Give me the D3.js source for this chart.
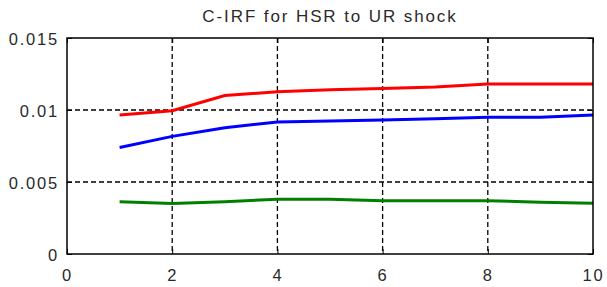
<!DOCTYPE html>
<html><head><meta charset="utf-8">
<script src="https://cdn.jsdelivr.net/npm/d3@7"></script>
<style>body{margin:0;background:#fff}svg{display:block}</style>
</head><body><svg id="c" width="607" height="287"></svg>
<script>
const title = "C-IRF for HSR to UR shock";
const horizons = [1,2,3,4,5,6,7,8,9,10];
const upper = [0.00965,0.00995,0.0110,0.01127,0.0114,0.0115,0.0116,0.0118,0.0118,0.0118];
const middle = [0.0074,0.00817,0.00877,0.00917,0.00924,0.0093,0.0094,0.0095,0.0095,0.00965];
const lower = [0.00363,0.0035,0.00363,0.0038,0.0038,0.0037,0.0037,0.0037,0.0036,0.00352];
const xTicks = [0,2,4,6,8,10];
const yTicks = [0,0.005,0.01,0.015];
const yTickLabels = ["0","0.005","0.01","0.015"];

const svg = d3.select("#c");
const L=67, R=593, T=38, B=254;
const x = d3.scaleLinear().domain([0,10]).range([L,R]);
const y = d3.scaleLinear().domain([0,0.015]).range([B,T]);
const font = "Arial, 'Liberation Sans', sans-serif";

// grid
const g = svg.append("g");
g.selectAll(".vg").data(xTicks.slice(1,-1)).join("line")
  .attr("x1",d=>x(d)).attr("x2",d=>x(d)).attr("y1",T).attr("y2",B)
  .attr("stroke","#000").attr("stroke-width",1.3).attr("stroke-dasharray","5,3");
g.selectAll(".hg").data(yTicks.slice(1,-1)).join("line")
  .attr("y1",d=>y(d)).attr("y2",d=>y(d)).attr("x1",L).attr("x2",R)
  .attr("stroke","#000").attr("stroke-width",1.3).attr("stroke-dasharray","5,3");

// lines
const line = d3.line().x((d,i)=>x(horizons[i])).y(d=>y(d));
[[upper,"#ff0000"],[middle,"#0000ff"],[lower,"#008000"]].forEach(([s,c])=>{
  svg.append("path").datum(s).attr("d",line).attr("fill","none")
    .attr("stroke",c).attr("stroke-width",3);
});

// box
svg.append("rect").attr("x",L).attr("y",T).attr("width",R-L).attr("height",B-T)
  .attr("fill","none").attr("stroke","#000").attr("stroke-width",1.5);

// axes
const xa = svg.append("g").attr("transform",`translate(0,${B})`)
  .call(d3.axisBottom(x).tickValues(xTicks).tickFormat(d3.format("d")).tickSizeInner(-5).tickSizeOuter(0).tickPadding(15));
const ya = svg.append("g").attr("transform",`translate(${L},0)`)
  .call(d3.axisLeft(y).tickValues(yTicks).tickFormat((d,i)=>yTickLabels[i]).tickSizeInner(-5).tickSizeOuter(0).tickPadding(8));
[xa,ya].forEach(a=>{
  a.select(".domain").remove();
  a.selectAll("text").attr("font-family",font).attr("font-size",16.5)
    .attr("letter-spacing","1.8px").attr("fill","#2a2a2a");
  a.selectAll("line").attr("stroke","#000");
});
ya.selectAll("text").attr("dy","0.4em");
// top and right ticks
svg.append("g").attr("transform",`translate(0,${T})`)
  .call(d3.axisTop(x).tickValues(xTicks).tickSizeInner(-5).tickSizeOuter(0).tickFormat(""))
  .call(a=>a.select(".domain").remove());
svg.append("g").attr("transform",`translate(${R},0)`)
  .call(d3.axisRight(y).tickValues(yTicks).tickSizeInner(-5).tickSizeOuter(0).tickFormat(""))
  .call(a=>a.select(".domain").remove());

svg.append("text").attr("x",330).attr("y",22).attr("text-anchor","middle")
  .attr("font-family",font).attr("font-size",17).attr("letter-spacing","1.9px")
  .attr("fill","#2a2a2a").text(title);
</script></body></html>
